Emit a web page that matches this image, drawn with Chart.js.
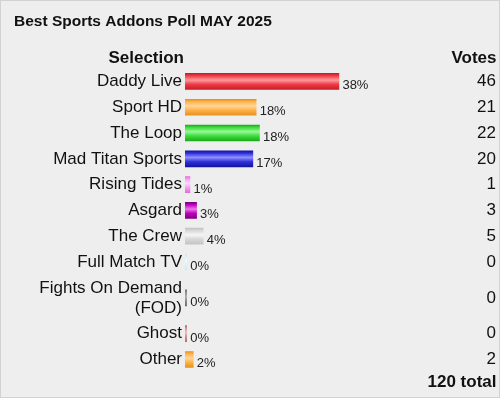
<!DOCTYPE html>
<html>
<head>
<meta charset="utf-8">
<title>Best Sports Addons Poll MAY 2025</title>
<script src="https://cdn.jsdelivr.net/npm/chart.js@4/dist/chart.umd.min.js"></script>
<style>
  html, body { margin: 0; padding: 0; background: #fff; }
  canvas { display: block; }
</style>
</head>
<body>
<canvas id="chart" width="500" height="398"></canvas>
<script>
'use strict';

const TITLE = 'Best Sports Addons Poll MAY 2025';
const selections = ['Daddy Live', 'Sport HD', 'The Loop', 'Mad Titan Sports', 'Rising Tides', 'Asgard',
  'The Crew', 'Full Match TV', ['Fights On Demand', '(FOD)'], 'Ghost', 'Other'];
const votes = [46, 21, 22, 20, 1, 3, 5, 0, 0, 0, 2];

// [edge, main, highlight]
const barColors = [
  ['#c81e28', '#ee3c46', '#ff9a9e'],
  ['#e8901c', '#ffb24a', '#ffd79a'],
  ['#1ea81e', '#3ade3a', '#9af59a'],
  ['#1414a0', '#3030dc', '#9090ff'],
  ['#e070dc', '#f5a0f0', '#ffd8ff'],
  ['#800080', '#c000c0', '#e878e8'],
  ['#c4c4c4', '#d8d8d8', '#f6f6f6'],
  ['#c8eaf4', '#d8f2fa', '#eefaff'],
  ['#707070', '#8a8a8a', '#b0b0b0'],
  ['#b07070', '#d09090', '#e8c0c0'],
  ['#e8901c', '#ffb24a', '#ffd79a']
];

const total = votes.reduce((a, b) => a + b, 0);
const FONT = 'Arial, "Liberation Sans", sans-serif';
Chart.defaults.font.family = FONT;

// row centres in "row units": a two-line label makes its row taller
const LINE_EXTRA = 0.78;
const rowHeights = selections.map(s => 1 + (Array.isArray(s) ? s.length - 1 : 0) * LINE_EXTRA);
const rowCenters = [];
rowHeights.reduce((top, h) => { rowCenters.push(top + h / 2); return top + h; }, 0);
const rowsTotal = rowHeights.reduce((a, b) => a + b, 0);

const setRowTicks = (scale) => { scale.ticks = rowCenters.map(v => ({ value: v })); };

const barGradient = (ctx) => {
  const chart = ctx.chart;
  const i = ctx.dataIndex;
  if (!chart.chartArea || i === undefined) return barColors[0][1];
  const y = chart.scales.y.getPixelForValue(rowCenters[i]);
  const [edge, main, light] = barColors[i];
  const g = chart.ctx.createLinearGradient(0, y - 8, 0, y + 8);
  g.addColorStop(0, edge);
  g.addColorStop(0.15, main);
  g.addColorStop(0.42, light);
  g.addColorStop(0.68, main);
  g.addColorStop(1, edge);
  return g;
};

const pollDecor = {
  id: 'pollDecor',
  beforeDraw(chart) {
    const { ctx, width, height } = chart;
    ctx.save();
    ctx.fillStyle = '#eeeeee';
    ctx.fillRect(0, 0, width, height);
    ctx.strokeStyle = '#d2d2d2';
    ctx.lineWidth = 1;
    ctx.strokeRect(0.5, 0.5, width - 1, height - 1);
    ctx.restore();
  },
  afterDatasetsDraw(chart) {
    const { ctx } = chart;
    const meta = chart.getDatasetMeta(0);
    ctx.save();
    // percentage next to each bar
    ctx.font = '13px ' + FONT;
    ctx.fillStyle = '#222';
    ctx.textAlign = 'left';
    ctx.textBaseline = 'alphabetic';
    meta.data.forEach((bar, i) => {
      ctx.fillText(Math.round(votes[i] / total * 100) + '%', bar.x + 3.5, bar.y + 8);
    });
    // column headers and total
    ctx.font = 'bold 17px ' + FONT;
    ctx.fillStyle = '#111';
    ctx.textAlign = 'right';
    ctx.textBaseline = 'middle';
    ctx.fillText('Selection', 184, 58.5);
    ctx.fillText('Votes', 496.5, 58.5);
    ctx.fillText(total + ' total', 496.5, 382.5);
    ctx.restore();
  }
};

new Chart(document.getElementById('chart'), {
  type: 'bar',
  data: {
    datasets: [{
      data: votes.map((v, i) => ({ x: v, y: rowCenters[i] })),
      base: -0.5,
      barThickness: 16,
      backgroundColor: barGradient,
      borderWidth: 0
    }]
  },
  options: {
    indexAxis: 'y',
    responsive: false,
    animation: false,
    devicePixelRatio: 1,
    layout: { padding: { left: 14, right: 4, top: 0, bottom: 25.65 } },
    plugins: {
      legend: { display: false },
      tooltip: { enabled: false },
      title: {
        display: true,
        text: TITLE,
        align: 'start',
        color: '#111',
        font: { size: 15.5, weight: 'bold' },
        padding: { top: 12.4, bottom: 37.55 }
      }
    },
    scales: {
      x: { display: false, min: -0.5, max: 87 },
      y: {
        type: 'linear',
        position: 'left',
        reverse: true,
        offset: false,
        min: 0,
        max: rowsTotal,
        afterBuildTicks: setRowTicks,
        afterFit: (scale) => { scale.width = 171; },
        grid: { display: false, drawTicks: false, offset: false },
        border: { display: false },
        ticks: {
          autoSkip: false,
          padding: 3,
          color: '#111',
          font: { size: 17, lineHeight: 20 / 17 },
          callback: (v, i) => selections[i]
        }
      },
      y2: {
        type: 'linear',
        position: 'right',
        reverse: true,
        offset: false,
        min: 0,
        max: rowsTotal,
        afterBuildTicks: setRowTicks,
        afterFit: (scale) => { scale.width = 21.4; },
        grid: { display: false, drawTicks: false },
        border: { display: false },
        ticks: {
          autoSkip: false,
          crossAlign: 'far',
          padding: 3,
          color: '#111',
          font: { size: 17 },
          callback: (v, i) => String(votes[i])
        }
      }
    }
  },
  plugins: [pollDecor]
});
</script>
</body>
</html>
